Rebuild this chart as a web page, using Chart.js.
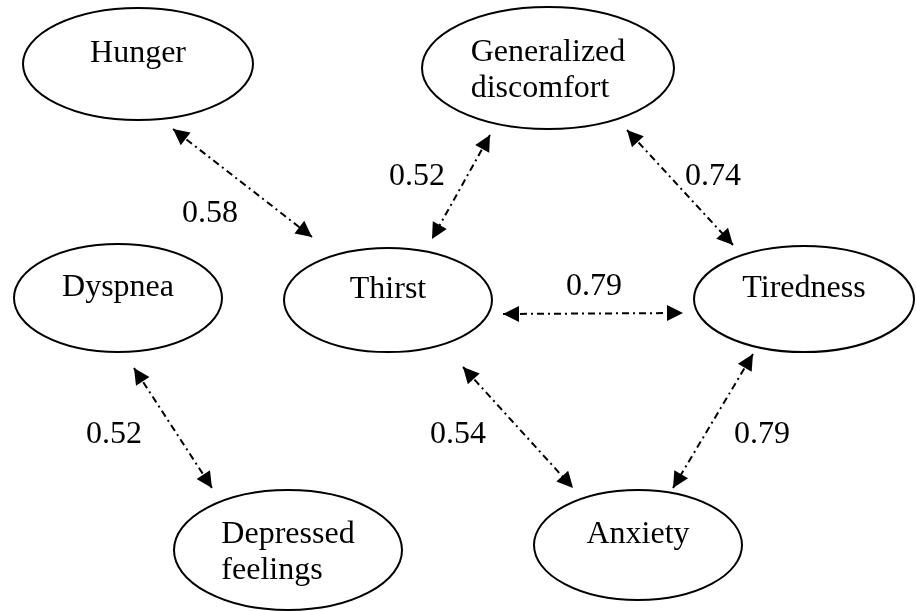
<!DOCTYPE html>
<html>
<head>
<meta charset="utf-8">
<script src="https://cdn.jsdelivr.net/npm/chart.js"></script>
<style>
  html, body { margin: 0; padding: 0; background: #fff; }
  #chart { display: block; }
</style>
</head>
<body>
<canvas id="chart" width="916" height="611"></canvas>
<script>
// nodes (ellipses)
let nodeNames = ['Hunger', 'Generalized\ndiscomfort', 'Dyspnea', 'Thirst', 'Tiredness', 'Depressed\nfeelings', 'Anxiety'];
let nodeX = [138, 548, 118, 388, 804, 288, 638];
let nodeY = [64, 68, 298, 300, 299, 550, 545];
let nodeRX = [116, 127, 105, 105, 111, 115, 105];
let nodeRY = [57, 62, 55, 53, 54, 61, 56];

// correlations (double-headed arrows)
let edgeWeights = ['0.58', '0.52', '0.74', '0.79', '0.54', '0.79', '0.52'];
let edgeX1 = [173, 490, 627, 503, 463, 753, 134];
let edgeY1 = [129, 135, 130, 314, 367, 354, 368];
let edgeX2 = [312, 432, 733, 683, 573, 673, 212];
let edgeY2 = [237, 239, 245, 313, 488, 488, 488];
let labelX = [210, 417, 713, 594, 458, 762, 114];
let labelY = [222, 185, 185, 295, 443, 443, 443];

const FONT = '32px "Liberation Serif", "Times New Roman", serif';

let datasets = [];
for (let i = 0; i < edgeWeights.length; i++) {
    datasets.push({
        label: edgeWeights[i],
        data: [{ x: edgeX1[i], y: edgeY1[i] }, { x: edgeX2[i], y: edgeY2[i] }],
        showLine: true,
        borderColor: '#000',
        borderWidth: 2,
        borderDash: [7, 4, 2, 4],
        pointRadius: 0,
        fill: false
    });
}

function arrowHead(ctx, fx, fy, tx, ty) {
    let dx = tx - fx, dy = ty - fy;
    let len = Math.sqrt(dx * dx + dy * dy);
    let ux = dx / len, uy = dy / len;
    let hl = 16, hw = 8;
    let bx = tx - ux * hl, by = ty - uy * hl;
    ctx.beginPath();
    ctx.moveTo(tx, ty);
    ctx.lineTo(bx - uy * hw, by + ux * hw);
    ctx.lineTo(bx + uy * hw, by - ux * hw);
    ctx.closePath();
    ctx.fill();
}

const diagramPlugin = {
    id: 'diagram',
    afterDatasetsDraw(chart) {
        const ctx = chart.ctx;
        const xs = chart.scales.x, ys = chart.scales.y;
        ctx.save();
        ctx.setLineDash([]);
        ctx.fillStyle = '#000';
        ctx.strokeStyle = '#000';
        // arrow heads
        for (let i = 0; i < edgeWeights.length; i++) {
            let x1 = xs.getPixelForValue(edgeX1[i]), y1 = ys.getPixelForValue(edgeY1[i]);
            let x2 = xs.getPixelForValue(edgeX2[i]), y2 = ys.getPixelForValue(edgeY2[i]);
            arrowHead(ctx, x2, y2, x1, y1);
            arrowHead(ctx, x1, y1, x2, y2);
        }
        // ellipses
        ctx.lineWidth = 2;
        for (let i = 0; i < nodeNames.length; i++) {
            let cx = xs.getPixelForValue(nodeX[i]), cy = ys.getPixelForValue(nodeY[i]);
            let rx = Math.abs(xs.getPixelForValue(nodeX[i] + nodeRX[i]) - cx);
            let ry = Math.abs(ys.getPixelForValue(nodeY[i] + nodeRY[i]) - cy);
            ctx.beginPath();
            ctx.ellipse(cx, cy, rx - 1, ry - 1, 0, 0, Math.PI * 2);
            ctx.stroke();
            // node text
            ctx.font = FONT;
            ctx.textBaseline = 'alphabetic';
            let lines = nodeNames[i].split('\n');
            if (lines.length == 1) {
                ctx.textAlign = 'center';
                ctx.fillText(lines[0], cx, cy - 2);
            } else {
                let w = Math.max(...lines.map(l => ctx.measureText(l).width));
                ctx.textAlign = 'left';
                for (let j = 0; j < lines.length; j++) {
                    ctx.fillText(lines[j], cx - w / 2, cy - 7 + j * 36);
                }
            }
        }
        // edge labels
        ctx.font = FONT;
        ctx.textAlign = 'center';
        ctx.textBaseline = 'alphabetic';
        for (let i = 0; i < edgeWeights.length; i++) {
            ctx.fillText(edgeWeights[i], xs.getPixelForValue(labelX[i]), ys.getPixelForValue(labelY[i]));
        }
        ctx.restore();
    }
};

var chart = new Chart(document.getElementById('chart'), {
    type: 'scatter',
    data: { datasets: datasets },
    options: {
        responsive: false,
        animation: false,
        layout: { padding: 0 },
        scales: {
            x: { type: 'linear', min: 0, max: 916, display: false },
            y: { type: 'linear', min: 0, max: 611, reverse: true, display: false }
        },
        plugins: {
            legend: { display: false },
            tooltip: { enabled: false }
        }
    },
    plugins: [diagramPlugin]
});
</script>
</body>
</html>
